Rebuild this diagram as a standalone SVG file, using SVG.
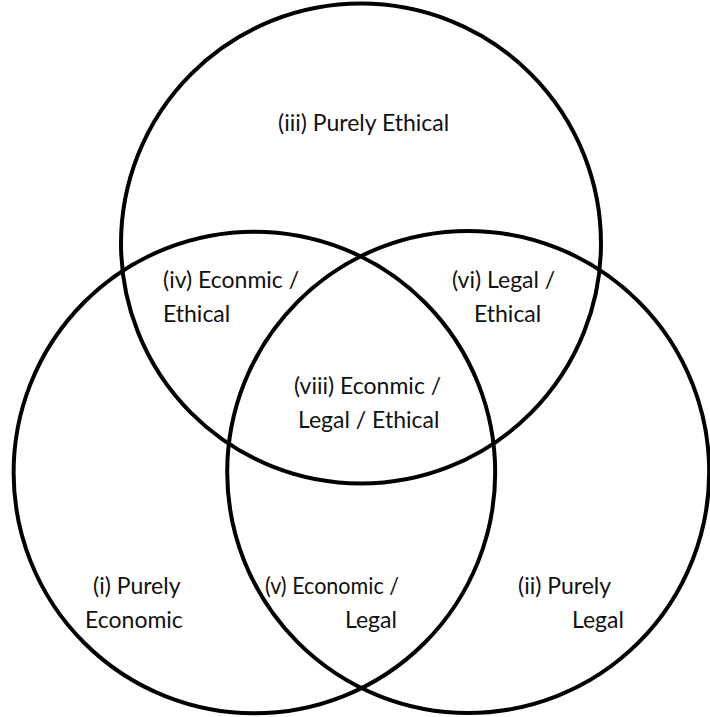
<svg xmlns="http://www.w3.org/2000/svg" width="710" height="717" viewBox="0 0 710 717">
<style>
.c{fill:none;stroke:#000;stroke-width:4}
.t{font-family:Lato,"Open Sans","Liberation Sans",sans-serif;font-size:23px;fill:#111}
</style>
<rect width="710" height="717" fill="#fff"/>
<g id="connectors"></g>
<g id="circle-ethical"><circle class="c" cx="361" cy="243.5" r="240"/></g>
<g id="circle-economic"><circle class="c" cx="254.4" cy="472.5" r="240.8"/></g>
<g id="circle-legal"><circle class="c" cx="468.2" cy="472" r="241"/></g>
<g id="region-iii"><text class="t" x="278" y="131">(iii) Purely Ethical</text></g>
<g id="region-iv"><text class="t" x="163" y="288">(iv) Econmic /</text><text class="t" x="163" y="322">Ethical</text></g>
<g id="region-vi"><text class="t" x="452" y="288">(vi) Legal /</text><text class="t" x="474" y="322">Ethical</text></g>
<g id="region-viii"><text class="t" x="294" y="394">(viii) Econmic /</text><text class="t" x="298" y="428">Legal / Ethical</text></g>
<g id="region-i"><text class="t" x="93" y="594">(i) Purely</text><text class="t" x="85" y="628">Economic</text></g>
<g id="region-v"><text class="t" x="265" y="594" textLength="134" lengthAdjust="spacingAndGlyphs">(v) Economic /</text><text class="t" x="345" y="628">Legal</text></g>
<g id="region-ii"><text class="t" x="518" y="594">(ii) Purely</text><text class="t" x="572" y="628">Legal</text></g>
</svg>
